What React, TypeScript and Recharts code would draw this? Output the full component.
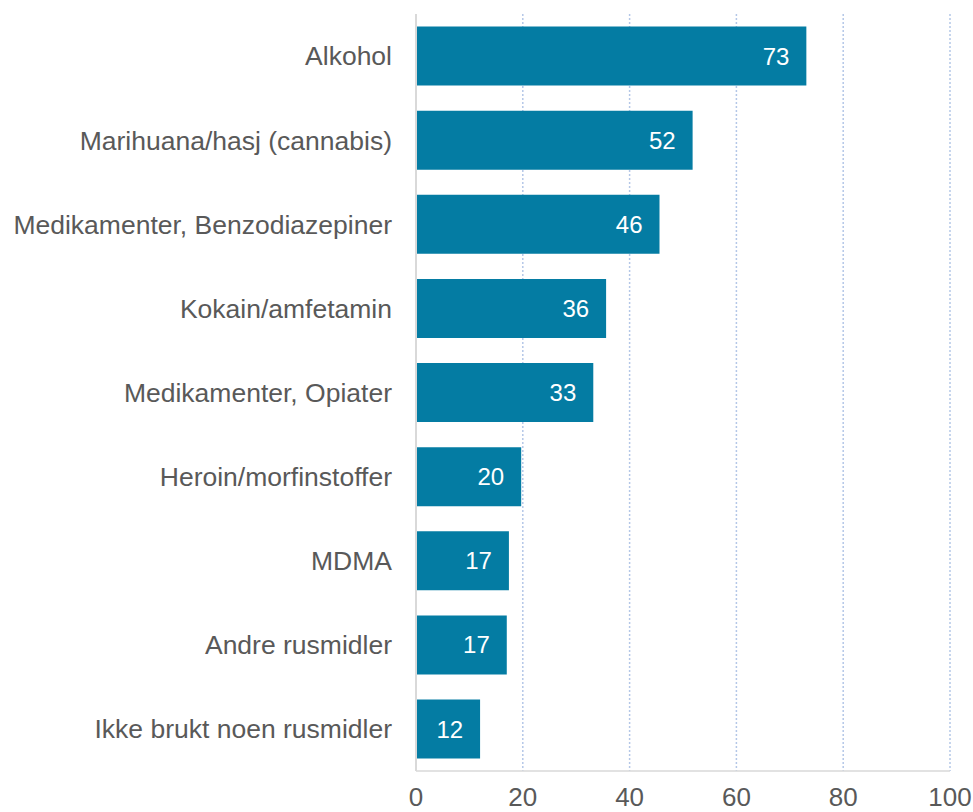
import React from "react"
import { Bar, BarChart, CartesianGrid, LabelList, XAxis, YAxis } from "recharts"

const categories = [
  "Alkohol",
  "Marihuana/hasj (cannabis)",
  "Medikamenter, Benzodiazepiner",
  "Kokain/amfetamin",
  "Medikamenter, Opiater",
  "Heroin/morfinstoffer",
  "MDMA",
  "Andre rusmidler",
  "Ikke brukt noen rusmidler",
]
const values = [73.1, 51.8, 45.6, 35.6, 33.2, 19.7, 17.4, 17.0, 12.0]
const xTicks = [0, 20, 40, 60, 80, 100]

const data = categories.map((name, i) => ({ name, value: values[i] }))

const font = "'Liberation Sans', Arial, sans-serif"

export default function App() {
  return (
    <div style={{ position: "absolute", left: 0, top: 0, width: 973, height: 812, background: "#fff", fontFamily: font }}>
      <BarChart
        width={973}
        height={812}
        data={data}
        layout="vertical"
        margin={{ top: 14, right: 23, bottom: 0, left: 0 }}
        barCategoryGap="15%"
      >
        <CartesianGrid horizontal={false} stroke="#b4c7e7" strokeDasharray="2 2" strokeWidth={1.5} />
        <XAxis
          type="number"
          domain={[0, 100]}
          ticks={xTicks}
          height={41}
          axisLine={{ stroke: "#d9d9d9", strokeWidth: 1.5 }}
          tickLine={false}
          tickMargin={11}
          tick={{ fontSize: 26, fill: "#595959", fontFamily: font }}
          interval={0}
        />
        <YAxis
          type="category"
          dataKey="name"
          width={416}
          axisLine={{ stroke: "#d9d9d9", strokeWidth: 2 }}
          tickLine={false}
          tickMargin={18}
          tick={{ fontSize: 26.5, fill: "#595959", fontFamily: font }}
          interval={0}
        />
        <Bar dataKey="value" fill="#047ca3" isAnimationActive={false}>
          <LabelList
            dataKey="value"
            position="insideRight"
            offset={17}
            formatter={(v: any) => Math.round(Number(v))}
            style={{ fill: "#ffffff", fontSize: 24, fontFamily: font }}
          />
        </Bar>
      </BarChart>
    </div>
  )
}
